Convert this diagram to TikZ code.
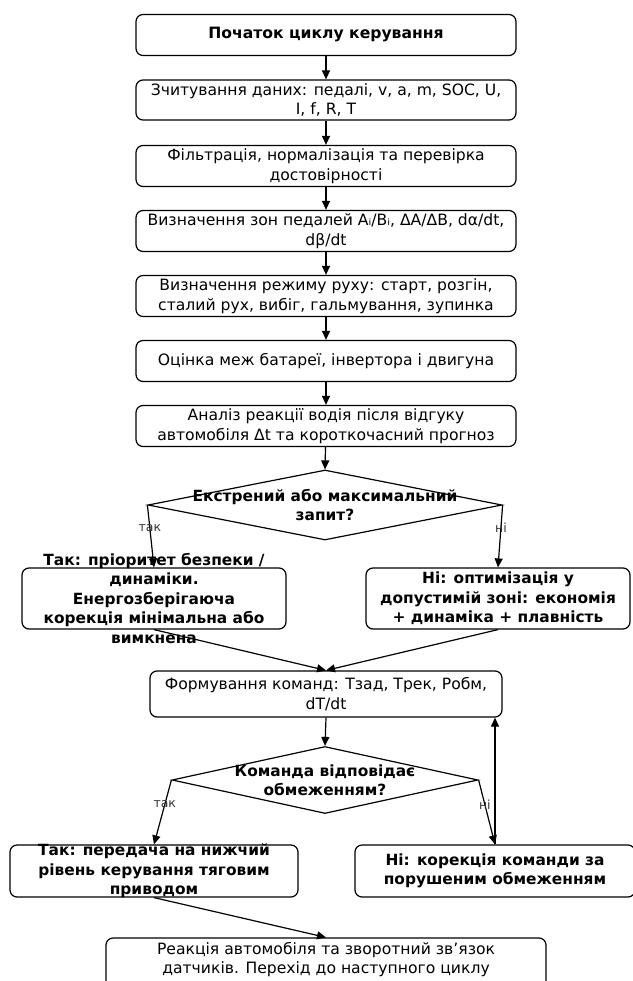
\documentclass[tikz,border=0pt]{standalone}
\usepackage{fontspec}
\setmainfont{DejaVu Sans}
\usetikzlibrary{shapes.geometric,arrows.meta}
\begin{document}
\begin{tikzpicture}[x=1pt,y=-1pt,
  box/.style={draw, rounded corners=7pt, line width=1.2pt, align=center, inner sep=0pt,
    minimum width=380pt, minimum height=41pt, font=\fontsize{15.6}{19.5}\selectfont},
  bbox/.style={box, font=\fontsize{15.6}{19.5}\selectfont\bfseries},
  frame/.style={draw, rounded corners=7pt, line width=1.2pt, inner sep=0pt},
  txt/.style={align=center, inner sep=0pt, font=\fontsize{15.4}{19.5}\selectfont\bfseries},
  rtxt/.style={align=center, inner sep=0pt, font=\fontsize{15.6}{19}\selectfont},
  dia/.style={draw, diamond, line width=1.2pt, inner sep=0pt},
  arr/.style={-{Triangle[length=9pt,width=8pt]}, line width=1.2pt},
  lbl/.style={font=\fontsize{12.5}{14}\selectfont, text=black!80, inner sep=1pt}]
\useasboundingbox (0,0) rectangle (632,981);
\node[bbox] (start) at (326,35) {Початок циклу керування};
\node[box, minimum height=40pt] (read) at (326,100) {Зчитування даних: педалі, v, a, m, SOC, U,\\I, f, R, T};
\node[box] (filt) at (326,166) {Фільтрація, нормалізація та перевірка\\достовірності};
\node[box] (zones) at (326,231) {Визначення зон педалей Aᵢ/Bᵢ, ΔA/ΔB, dα/dt,\\dβ/dt};
\node[box] (mode) at (326,296) {Визначення режиму руху: старт, розгін,\\сталий рух, вибіг, гальмування, зупинка};
\node[box] (est) at (326,361) {Оцінка меж батареї, інвертора і двигуна};
\node[box] (anal) at (326,426) {Аналіз реакції водія після відгуку\\автомобіля Δt та короткочасний прогноз};
\node[dia, minimum width=354pt, minimum height=70pt] (d1) at (325,505) {};
\node[txt] at (325,505) {Екстрений або максимальний\\запит?};
\node[frame, minimum width=264pt, minimum height=61pt] (yes1) at (154,598.5) {};
\node[txt] at (154,598.5) {Так: пріоритет безпеки /\\динаміки.\\Енергозберігаюча\\корекція мінімальна або\\вимкнена};
\node[frame, minimum width=264pt, minimum height=61pt] (no1) at (498,598.5) {};
\node[txt] at (498,598.5) {Ні: оптимізація у\\допустимій зоні: економія\\+ динаміка + плавність};
\node[box, minimum width=352pt, minimum height=46pt] (form) at (326,694) {Формування команд: Тзад, Трек, Робм,\\dT/dt};
\node[dia, minimum width=306pt, minimum height=67pt] (d2) at (325,780) {};
\node[txt] at (325,780) {Команда відповідає\\обмеженням?};
\node[frame, minimum width=288pt, minimum height=52pt] (yes2) at (154,871) {};
\node[txt] at (154,871) {Так: передача на нижчий\\рівень керування тяговим\\приводом};
\node[frame, minimum width=280pt, minimum height=52pt] (no2) at (495,871) {};
\node[txt] at (495,871) {Ні: корекція команди за\\порушеним обмеженням};
\node[frame, minimum width=440pt, minimum height=54pt] (react) at (326,965) {};
\node[rtxt] at (326,960) {Реакція автомобіля та зворотний зв’язок\\датчиків. Перехід до наступного циклу};
\draw[arr] (start) -- (read);
\draw[arr] (read) -- (filt);
\draw[arr] (filt) -- (zones);
\draw[arr] (zones) -- (mode);
\draw[arr] (mode) -- (est);
\draw[arr] (est) -- (anal);
\draw[arr] (anal) -- (d1.north);
\draw[arr] (d1.west) -- node[lbl, pos=0.37] {так} (yes1.north);
\draw[arr] (d1.east) -- node[lbl, pos=0.37] {ні} (no1.north);
\draw[arr] (yes1.south) -- (form.north);
\draw[arr] (no1.south) -- (form.north);
\draw[arr] (form.south) -- (d2.north);
\draw[arr] (d2.west) -- node[lbl, pos=0.38] {так} (yes2.north);
\draw[arr] (d2.east) -- node[lbl, pos=0.38] {ні} (no2.north);
\draw[arr] (no2.north) -- (no2.north |- form.south);
\draw[arr] (yes2.south) -- (react.north);
\end{tikzpicture}
\end{document}
